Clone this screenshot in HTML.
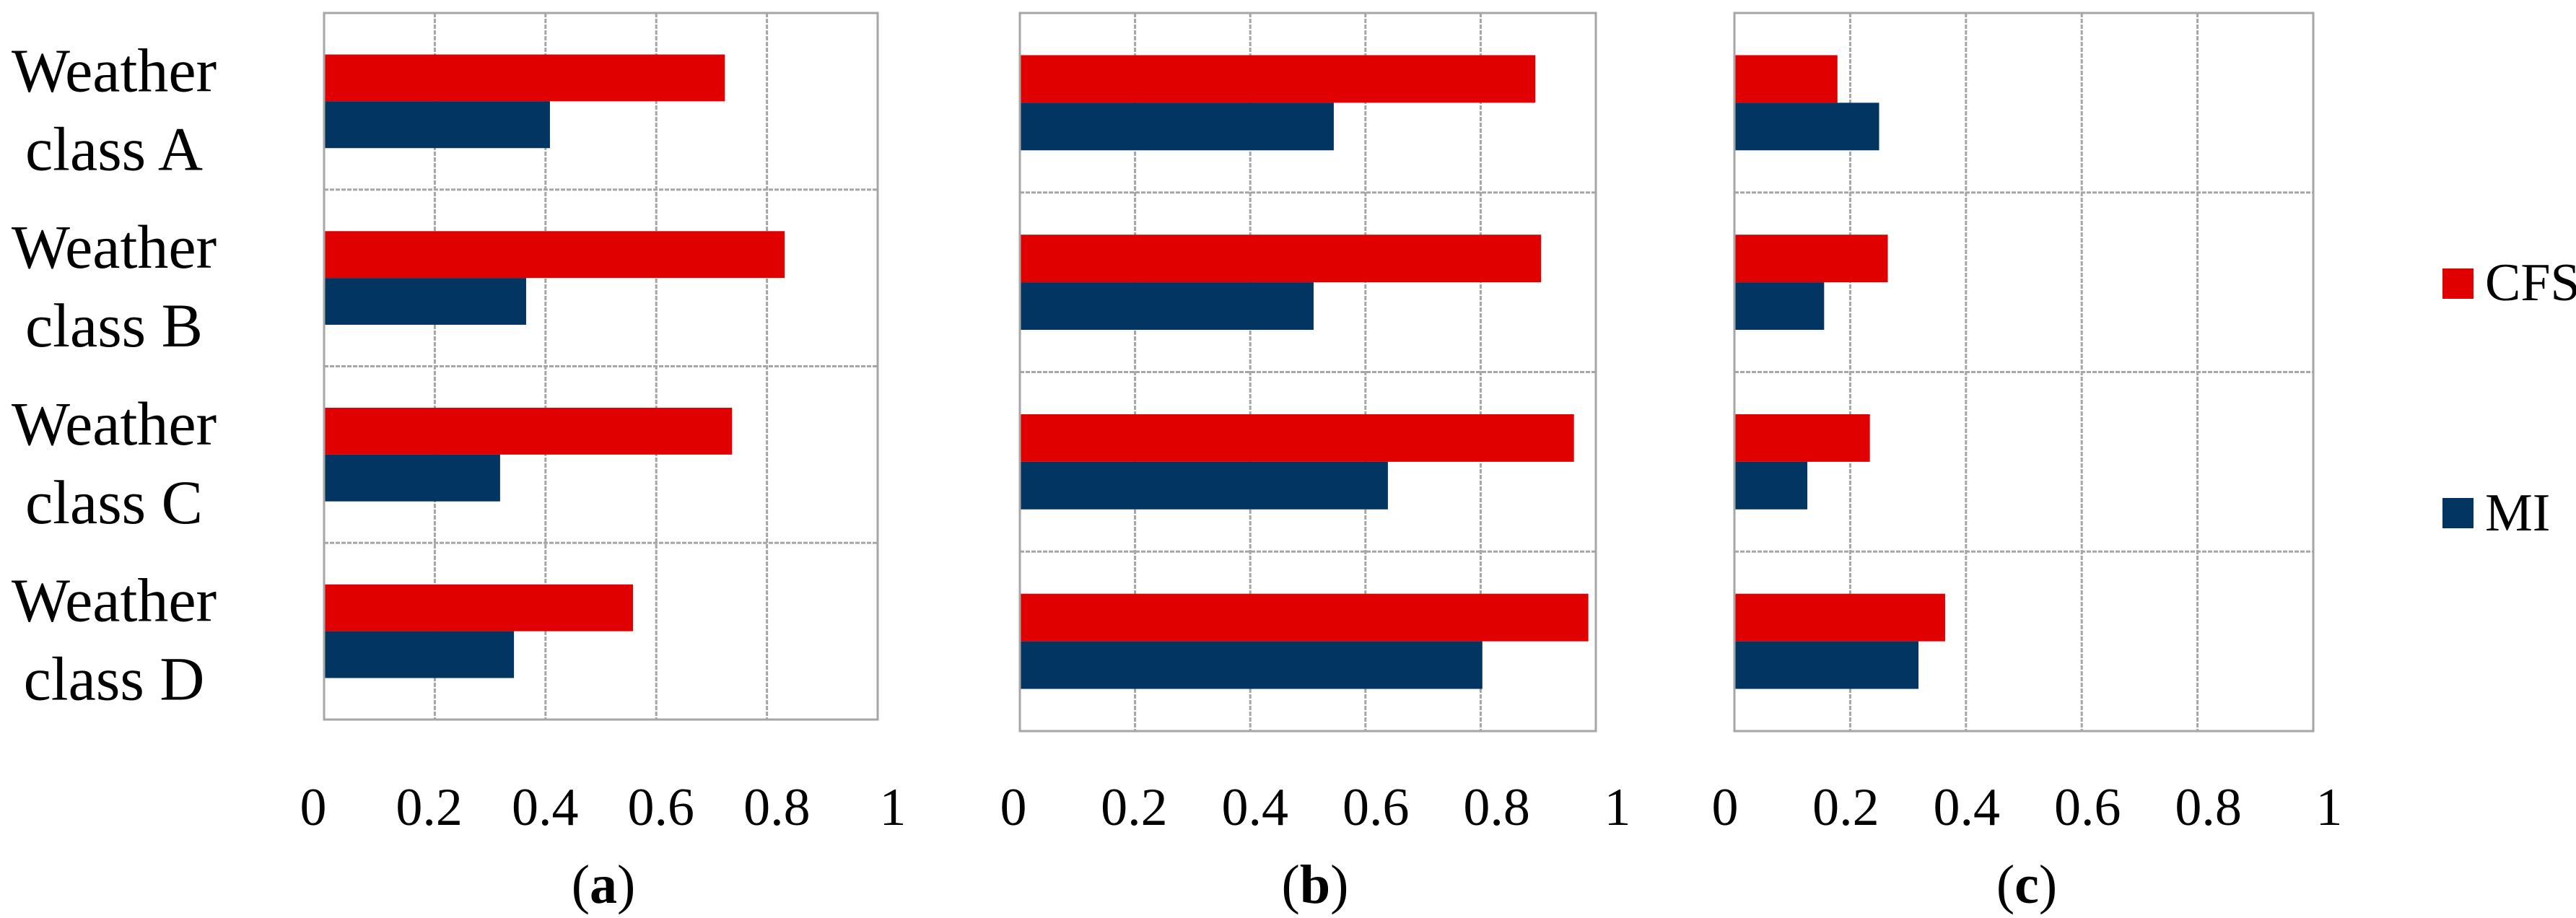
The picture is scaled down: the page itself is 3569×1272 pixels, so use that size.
<!DOCTYPE html>
<html><head><meta charset="utf-8"><style>
html,body{margin:0;padding:0;background:#fff;width:3569px;height:1272px;overflow:hidden}
svg{display:block}
text{font-family:"Liberation Serif",serif;fill:#000}
</style></head><body>
<svg id="chart" width="3569" height="1272" viewBox="0 0 3569 1272" xmlns="http://www.w3.org/2000/svg"></svg>
<script>
const categories = ["A","B","C","D"];
const ticks = [0,0.2,0.4,0.6,0.8,1];
const tickLabels = ["0","0.2","0.4","0.6","0.8","1"];
const cfsA = [0.724,0.832,0.737,0.558];
const miA  = [0.408,0.365,0.318,0.343];
const cfsB = [0.895,0.905,0.962,0.987];
const miB  = [0.545,0.510,0.639,0.803];
const cfsC = [0.178,0.265,0.234,0.364];
const miC  = [0.250,0.155,0.126,0.318];
const panelLabels = ["a","b","c"];

const NS="http://www.w3.org/2000/svg";
const svg=document.getElementById('chart');
function mk(tag,attrs,parent){const e=document.createElementNS(NS,tag);for(const k in attrs)e.setAttribute(k,attrs[k]);(parent||svg).appendChild(e);return e;}

const panels=[
 {cfs:cfsA,mi:miA,left:449,right:1216,top:18,bottom:997,tl0:434,tl1:1237,cap:836},
 {cfs:cfsB,mi:miB,left:1413,right:2211,top:18,bottom:1013,tl0:1404,tl1:2241,cap:1822},
 {cfs:cfsC,mi:miC,left:2403,right:3205,top:18,bottom:1013,tl0:2390,tl1:3227,cap:2808}
];
const GRAY="#a6a6a6",RED="#e00000",BLUE="#033563";

panels.forEach((p,pi)=>{
  const g=mk('g',{});
  
  
  const x=v=>p.left+v*(p.right-p.left);
  const band=(p.bottom-p.top)/categories.length;
  const y=i=>p.top+i*band;
  ticks.forEach((t,ti)=>{
    if(ti===0||ti===ticks.length-1)return;
    const l=mk('line',{x1:x(t),x2:x(t),y1:p.top,y2:p.bottom,stroke:GRAY,'stroke-width':3,'stroke-dasharray':'6 2'},g);
    
    
  });
  for(let i=1;i<categories.length;i++){
    const l=mk('line',{x1:p.left,x2:p.right,y1:y(i),y2:y(i),stroke:GRAY,'stroke-width':3,'stroke-dasharray':'6 2'},g);
    
    
  }
  const bh=band*0.265;
  categories.forEach((c,i)=>{
    const cy=y(i)+band/2;
    const r=mk('rect',{x:x(0),y:cy-bh,width:x(p.cfs[i])-x(0),height:bh,fill:RED},g);
    
    
    const b=mk('rect',{x:x(0),y:cy,width:x(p.mi[i])-x(0),height:bh,fill:BLUE},g);
    
    
  });
  const f=mk('rect',{x:p.left,y:p.top,width:p.right-p.left,height:p.bottom-p.top,fill:'none',stroke:GRAY,'stroke-width':3},g);
  
  
  ticks.forEach((t,ti)=>{
    const tx=p.tl0+t*(p.tl1-p.tl0);
    const tt=mk('text',{x:tx,y:1143,'font-size':74,'text-anchor':'middle'},g);
    tt.textContent=tickLabels[ti];
    
    
  });
  const cap=mk('text',{x:p.cap,y:1251,'font-size':76,'text-anchor':'middle'},g);
  
  
  cap.appendChild(document.createTextNode('('));
  const bt=mk('tspan',{'font-weight':'bold'},cap);bt.textContent=panelLabels[pi];
  cap.appendChild(document.createTextNode(')'));
  if(pi===0){
    categories.forEach((c,i)=>{
      const cy=y(i)+band/2;
      const t1=mk('text',{x:158,y:cy-14,'font-size':86,'text-anchor':'middle'});
      t1.textContent='Weather';
      
      
      const t2=mk('text',{x:158,y:cy+95,'font-size':86,'text-anchor':'middle'});
      t2.textContent='class '+c;
      
      
    });
  }
});
const lg=mk('g',{});


const s1=mk('rect',{x:3384,y:372,width:43,height:42,fill:RED},lg);


const l1=mk('text',{x:3443,y:416,'font-size':74},lg);l1.textContent='CFS';


const s2=mk('rect',{x:3384,y:690,width:43,height:42,fill:BLUE},lg);


const l2=mk('text',{x:3443,y:735,'font-size':74},lg);l2.textContent='MI';


</script>
</body></html>
